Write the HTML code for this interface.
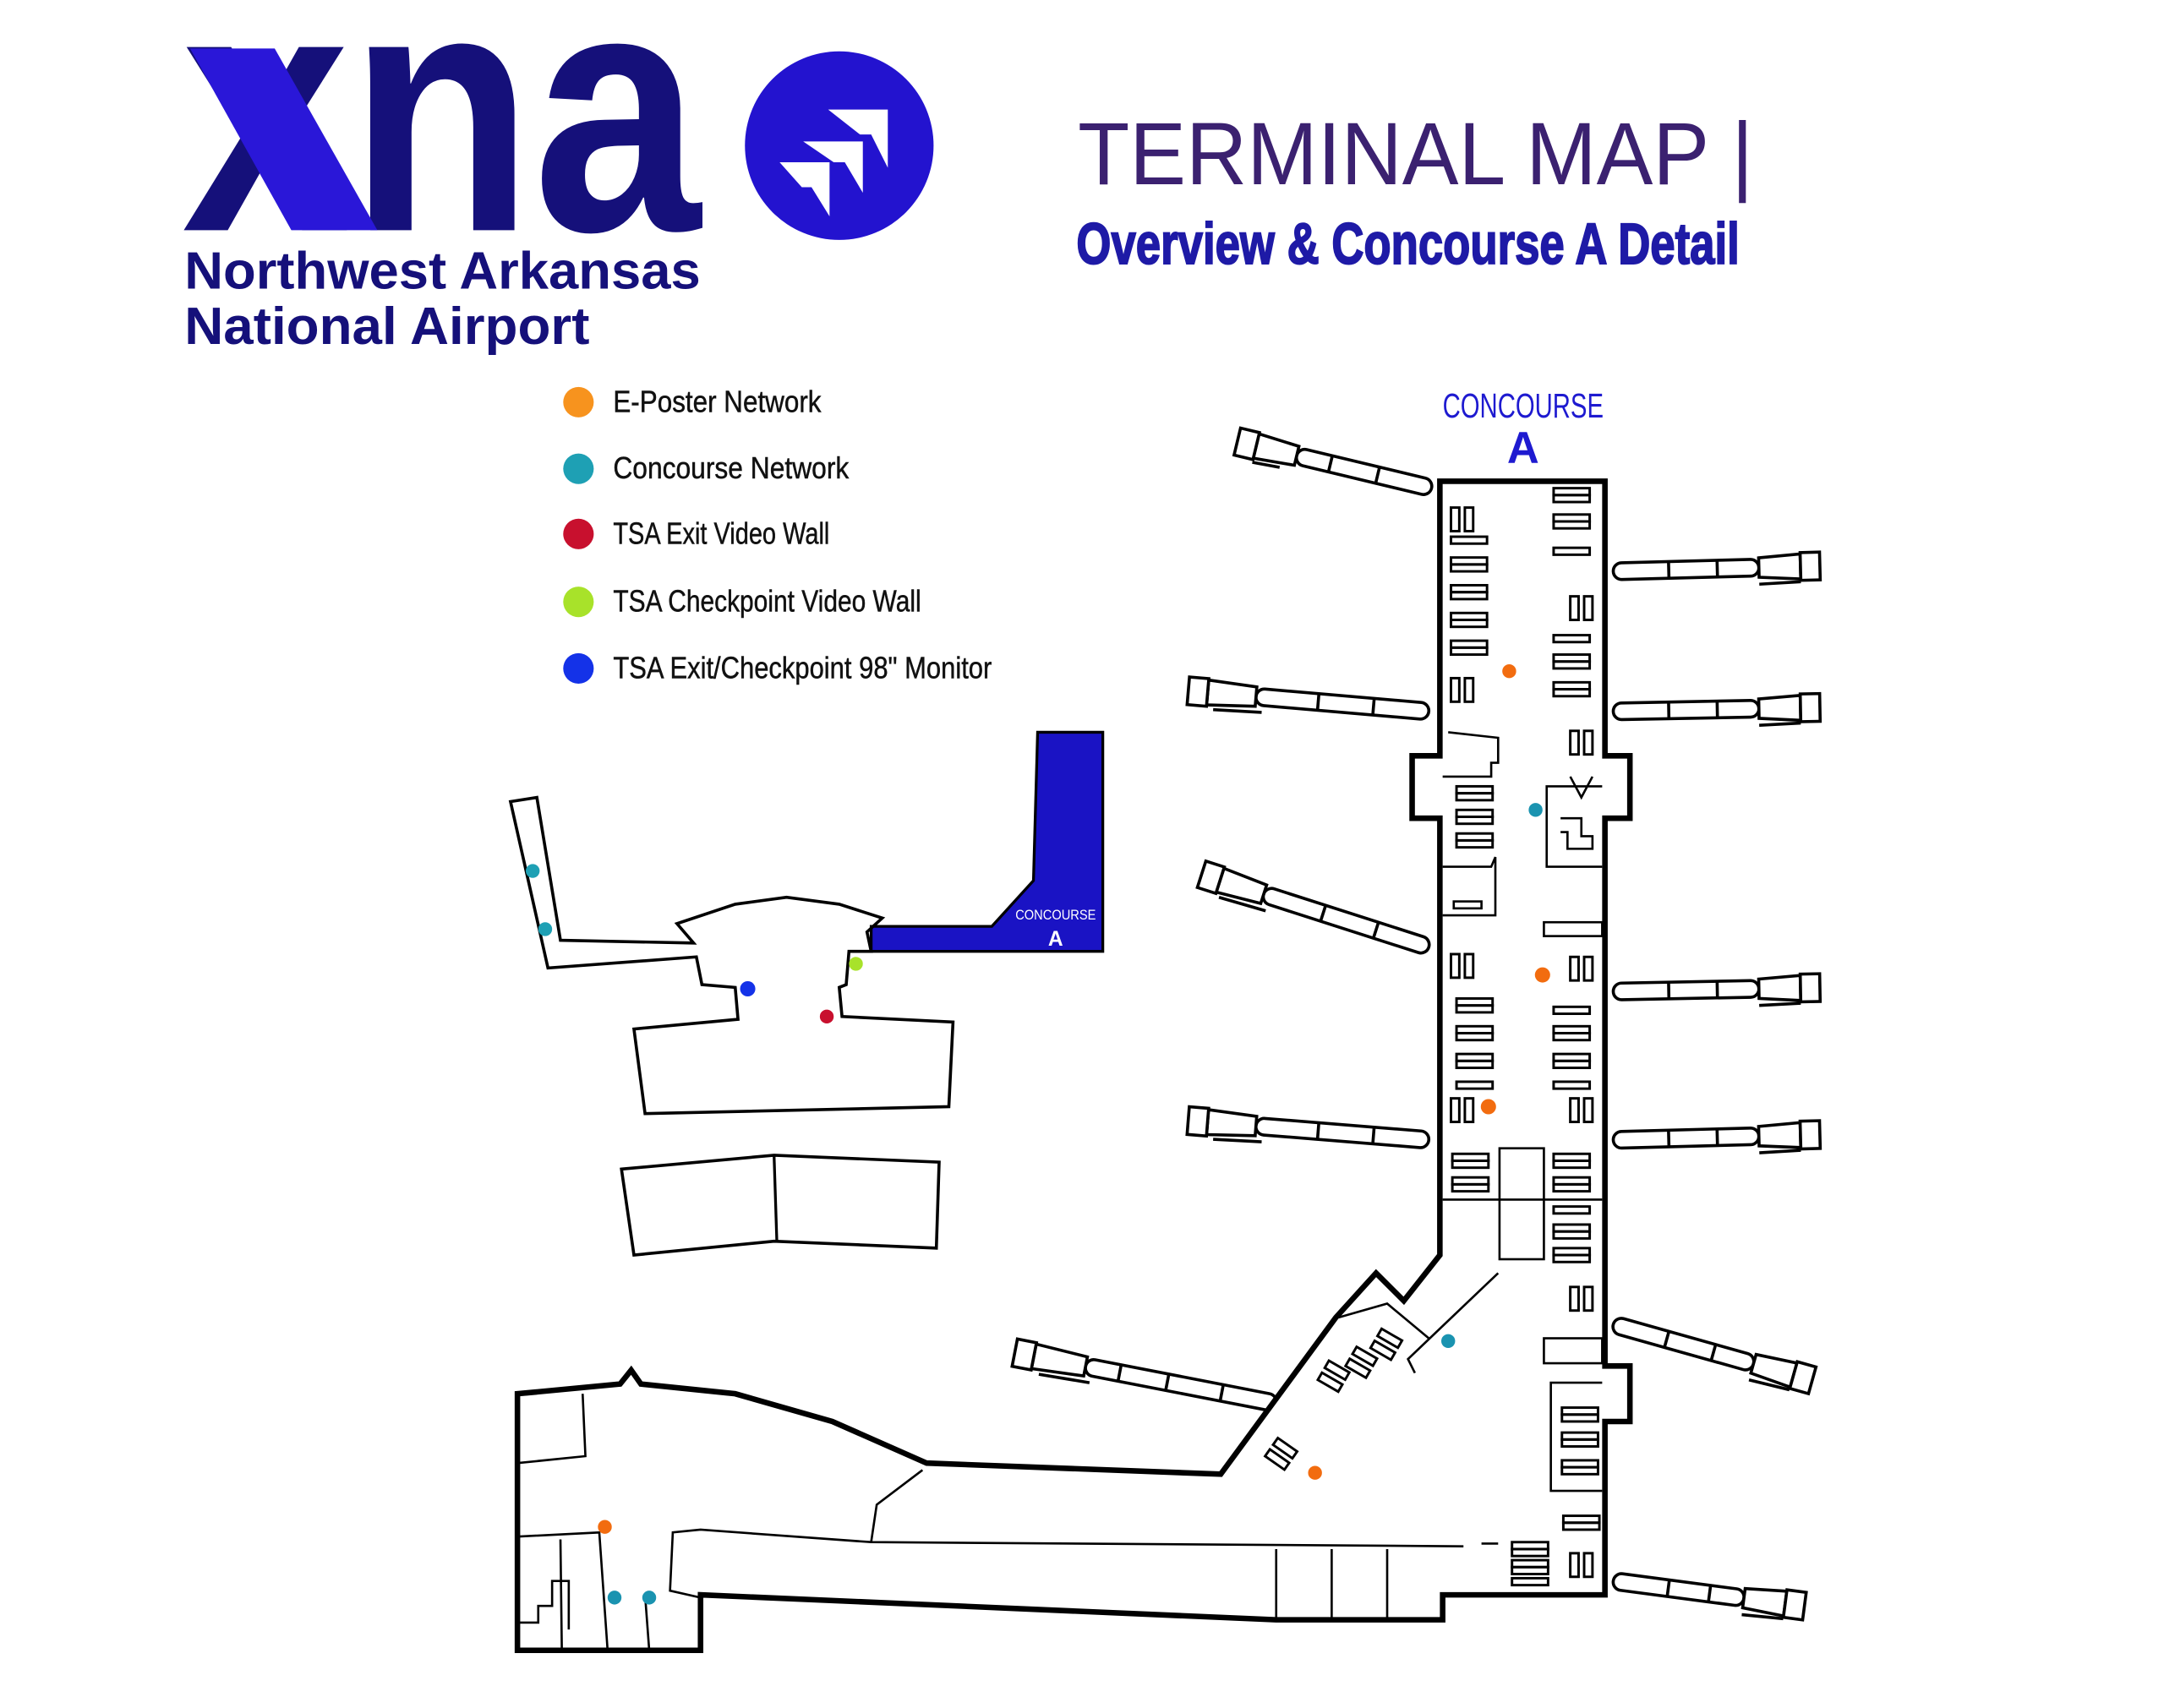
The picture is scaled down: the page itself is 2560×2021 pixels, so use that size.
<!DOCTYPE html>
<html><head><meta charset="utf-8"><style>
html,body{margin:0;padding:0;background:#fff;}
svg{display:block;}
</style></head><body>
<svg width="2560" height="2021" viewBox="0 0 1560 1231.6" xmlns="http://www.w3.org/2000/svg">
<defs>
<g id="b"><rect x="0" y="0" width="26" height="5" fill="none" stroke="#000" stroke-width="1.8"/><rect x="0" y="5" width="26" height="5" fill="none" stroke="#000" stroke-width="1.8"/></g>
<g id="s"><rect x="0" y="0" width="26" height="5" fill="none" stroke="#000" stroke-width="1.8"/></g>
<g id="p"><rect x="0" y="0" width="6" height="17" fill="none" stroke="#000" stroke-width="1.8"/><rect x="10" y="0" width="6" height="17" fill="none" stroke="#000" stroke-width="1.8"/></g>
</defs>
<rect width="1560" height="1232" fill="#fff"/>

<!-- Logo -->
<text x="131" y="166" font-family="Liberation Sans, sans-serif" font-weight="bold" font-size="250" fill="#15107a" textLength="374" lengthAdjust="spacingAndGlyphs">xna</text>
<polygon points="137,35 198,35 272,166 210,166" fill="#2a17d8"/>
<text x="133" y="208" font-family="Liberation Sans, sans-serif" font-weight="bold" font-size="38" fill="#15107a" textLength="372" lengthAdjust="spacingAndGlyphs">Northwest Arkansas</text>
<text x="133" y="248" font-family="Liberation Sans, sans-serif" font-weight="bold" font-size="38" fill="#15107a" textLength="292" lengthAdjust="spacingAndGlyphs">National Airport</text>
<ellipse cx="605" cy="105" rx="68" ry="68" fill="#2313cf"/>
<polygon points="597,79 640,79 640,121 628,97 620,97" fill="#fff"/>
<polygon points="579,102 622,102 622,139 609,117 601,117" fill="#fff"/>
<polygon points="562,117 598,117 598,156 585,135 578,135" fill="#fff"/>

<!-- Title -->
<text x="777" y="133" font-family="Liberation Sans, sans-serif" font-size="64" fill="#3b2170" textLength="487" lengthAdjust="spacingAndGlyphs">TERMINAL MAP |</text>
<text x="776" y="190" font-family="Liberation Sans, sans-serif" font-weight="bold" font-size="42" fill="#1e1aa6" stroke="#1e1aa6" stroke-width="1.2" textLength="478" lengthAdjust="spacingAndGlyphs">Overview &amp; Concourse A Detail</text>

<!-- Legend -->
<g font-family="Liberation Sans, sans-serif" font-size="22" fill="#111" stroke="#111" stroke-width="0.3">
<circle cx="417" cy="290" r="11" fill="#f7931e" stroke="none"/><text x="442" y="297" textLength="150" lengthAdjust="spacingAndGlyphs">E-Poster Network</text>
<circle cx="417" cy="338" r="11" fill="#1ea0b4" stroke="none"/><text x="442" y="345" textLength="170" lengthAdjust="spacingAndGlyphs">Concourse Network</text>
<circle cx="417" cy="385" r="11" fill="#c8102e" stroke="none"/><text x="442" y="392" textLength="156" lengthAdjust="spacingAndGlyphs">TSA Exit Video Wall</text>
<circle cx="417" cy="434" r="11" fill="#a8e22a" stroke="none"/><text x="442" y="441" textLength="222" lengthAdjust="spacingAndGlyphs">TSA Checkpoint Video Wall</text>
<circle cx="417" cy="482" r="11" fill="#1432e8" stroke="none"/><text x="442" y="489" textLength="273" lengthAdjust="spacingAndGlyphs">TSA Exit/Checkpoint 98" Monitor</text>
</g>

<!-- Overview map -->
<polygon points="748,528 795,528 795,686 628,686 628,668 715,668 745,635" fill="#1a13c4" stroke="#000" stroke-width="2"/>
<text x="761" y="663" font-family="Liberation Sans, sans-serif" font-size="10" fill="#fff" text-anchor="middle" textLength="58" lengthAdjust="spacingAndGlyphs">CONCOURSE</text>
<text x="761" y="682" font-family="Liberation Sans, sans-serif" font-weight="bold" font-size="15" fill="#fff" text-anchor="middle">A</text>
<polygon points="368,578 387,575 404,678 500,680 488,666 530,652 567,647 605,652 636,662 625,672 628,686 612,686 610,710 605,712 607,733 687,737 684,798 465,803 457,742 532,735 530,712 506,710 502,690 395,698" fill="none" stroke="#000" stroke-width="2.2"/>
<polygon points="448,843 558,833 677,838 675,900 558,895 457,905" fill="none" stroke="#000" stroke-width="2.2"/>
<line x1="558" y1="833" x2="560" y2="895" stroke="#000" stroke-width="2"/>

<!-- Concourse label -->
<text x="1098" y="301" font-family="Liberation Sans, sans-serif" font-size="25" fill="#1e1ad0" text-anchor="middle" textLength="116" lengthAdjust="spacingAndGlyphs">CONCOURSE</text>
<text x="1098" y="334" font-family="Liberation Sans, sans-serif" font-weight="bold" font-size="32" fill="#1e1ad0" text-anchor="middle">A</text>

<!-- Jet bridges -->
<g fill="#fff" stroke="#000" stroke-width="2.2">
<g transform="translate(1032,352) rotate(193.5)"><rect x="0" y="-6" width="100" height="12" rx="6"/><line x1="40" y1="-6" x2="40" y2="6"/><line x1="75" y1="-6" x2="75" y2="6"/><polygon points="100,-7 130,-9 130,9 100,7"/><rect x="130" y="-10" width="14" height="20"/><line x1="110" y1="-11" x2="130" y2="-12"/></g>
<g transform="translate(1030,513) rotate(184.9)"><rect x="0" y="-6" width="125" height="12" rx="6"/><line x1="40" y1="-6" x2="40" y2="6"/><line x1="80" y1="-6" x2="80" y2="6"/><polygon points="125,-7 160,-9 160,9 125,7"/><rect x="160" y="-10" width="14" height="20"/><line x1="120" y1="-11" x2="155" y2="-12"/></g>
<g transform="translate(1030,683) rotate(197.8)"><rect x="0" y="-6" width="125" height="12" rx="6"/><line x1="40" y1="-6" x2="40" y2="6"/><line x1="80" y1="-6" x2="80" y2="6"/><polygon points="125,-7 158,-9 158,9 125,7"/><rect x="158" y="-10" width="14" height="20"/><line x1="120" y1="-11" x2="155" y2="-12"/></g>
<g transform="translate(1030,822) rotate(184.6)"><rect x="0" y="-6" width="125" height="12" rx="6"/><line x1="40" y1="-6" x2="40" y2="6"/><line x1="80" y1="-6" x2="80" y2="6"/><polygon points="125,-7 160,-9 160,9 125,7"/><rect x="160" y="-10" width="14" height="20"/><line x1="120" y1="-11" x2="155" y2="-12"/></g>
<g transform="translate(920,1012) rotate(191)"><rect x="0" y="-6" width="140" height="12" rx="6"/><line x1="40" y1="-6" x2="40" y2="6"/><line x1="80" y1="-6" x2="80" y2="6"/><line x1="115" y1="-6" x2="115" y2="6"/><polygon points="140,-7 178,-9 178,9 140,7"/><rect x="178" y="-10" width="14" height="20"/><line x1="135" y1="-11" x2="172" y2="-12"/></g>
<g transform="translate(1163,412) rotate(-1.5)"><rect x="0" y="-6" width="105" height="12" rx="6"/><line x1="40" y1="-6" x2="40" y2="6"/><line x1="75" y1="-6" x2="75" y2="6"/><polygon points="105,-7 135,-9 135,9 105,7"/><rect x="135" y="-10" width="14" height="20"/><line x1="105" y1="12" x2="135" y2="11"/></g>
<g transform="translate(1163,513) rotate(-1.1)"><rect x="0" y="-6" width="105" height="12" rx="6"/><line x1="40" y1="-6" x2="40" y2="6"/><line x1="75" y1="-6" x2="75" y2="6"/><polygon points="105,-7 135,-9 135,9 105,7"/><rect x="135" y="-10" width="14" height="20"/><line x1="105" y1="12" x2="135" y2="11"/></g>
<g transform="translate(1163,715) rotate(-1.1)"><rect x="0" y="-6" width="105" height="12" rx="6"/><line x1="40" y1="-6" x2="40" y2="6"/><line x1="75" y1="-6" x2="75" y2="6"/><polygon points="105,-7 135,-9 135,9 105,7"/><rect x="135" y="-10" width="14" height="20"/><line x1="105" y1="12" x2="135" y2="11"/></g>
<g transform="translate(1163,822) rotate(-1.5)"><rect x="0" y="-6" width="105" height="12" rx="6"/><line x1="40" y1="-6" x2="40" y2="6"/><line x1="75" y1="-6" x2="75" y2="6"/><polygon points="105,-7 135,-9 135,9 105,7"/><rect x="135" y="-10" width="14" height="20"/><line x1="105" y1="12" x2="135" y2="11"/></g>
<g transform="translate(1163,955) rotate(15.7)"><rect x="0" y="-6" width="105" height="12" rx="6"/><line x1="40" y1="-6" x2="40" y2="6"/><line x1="75" y1="-6" x2="75" y2="6"/><polygon points="105,-7 135,-9 135,9 105,7"/><rect x="135" y="-10" width="14" height="20"/><line x1="105" y1="12" x2="135" y2="11"/></g>
<g transform="translate(1163,1140) rotate(7.5)"><rect x="0" y="-6" width="95" height="12" rx="6"/><line x1="40" y1="-6" x2="40" y2="6"/><line x1="70" y1="-6" x2="70" y2="6"/><polygon points="95,-7 125,-9 125,9 95,7"/><rect x="125" y="-10" width="14" height="20"/><line x1="95" y1="12" x2="125" y2="11"/></g>
</g>

<!-- Main terminal outline -->
<polygon points="1038,347 1157,347 1157,545 1175,545 1175,590 1157,590 1157,985 1175,985 1175,1025 1157,1025 1157,1150 1040,1150 1040,1168 920,1168 505,1150 505,1190 373,1190 373,1005 447,998 455,988 462,998 530,1005 600,1025 668,1055 880,1063 963,950 992,918 1012,938 1038,905 1038,590 1018,590 1018,545 1038,545" fill="#fff" stroke="#000" stroke-width="4" stroke-linejoin="miter"/>

<g fill="none" stroke="#000" stroke-width="1.6">
<polyline points="665,1060 632,1085 628,1112 1055,1115"/>
<line x1="1068" y1="1113" x2="1080" y2="1113"/>
<line x1="920" y1="1117" x2="920" y2="1168"/><line x1="960" y1="1117" x2="960" y2="1168"/><line x1="1000" y1="1117" x2="1000" y2="1168"/>
<polyline points="628,1112 505,1103 485,1105 483,1147 505,1152"/>
<polyline points="373,1055 422,1050 420,1005"/>
<polyline points="373,1108 432,1105 438,1190"/>
<polyline points="404,1110 405,1190"/>
<polyline points="373,1170 388,1170 388,1158 398,1158 398,1140 410,1140 410,1175"/>
<line x1="465" y1="1150" x2="468" y2="1190"/>
<line x1="1040" y1="865" x2="1155" y2="865"/>
<rect x="1081" y="828" width="32" height="80"/>
<polyline points="1040,560 1075,560 1075,550 1080,550 1080,532 1044,528"/>
<polyline points="1040,625 1075,625 1078,618 1078,660 1040,660"/>
<rect x="1048" y="650" width="20" height="5"/>
<polyline points="1155,567 1115,567 1115,625 1155,625"/>
<polyline points="1125,590 1140,590 1140,603 1148,603 1148,612 1130,612 1130,600 1125,600"/>
<polyline points="1132,560 1140,575 1148,560"/>
<rect x="1113" y="665" width="42" height="10"/>
<rect x="1113" y="965" width="42" height="18"/>
<polyline points="1155,997 1118,997 1118,1075 1155,1075"/>
<polyline points="1080,918 1015,980 1020,990"/>
<polyline points="965,950 1000,940 1030,965"/>
</g>
<g>
<use href="#p" x="1046" y="366"/><use href="#s" x="1046" y="387"/>
<use href="#b" x="1046" y="402"/><use href="#b" x="1046" y="422"/><use href="#b" x="1046" y="442"/><use href="#b" x="1046" y="462"/>
<use href="#p" x="1046" y="489"/>
<use href="#b" x="1120" y="352"/><use href="#b" x="1120" y="371"/><use href="#s" x="1120" y="395"/>
<use href="#p" x="1132" y="430"/><use href="#s" x="1120" y="458"/><use href="#b" x="1120" y="472"/><use href="#b" x="1120" y="492"/>
<use href="#p" x="1132" y="527"/>
<use href="#b" x="1050" y="567"/><use href="#b" x="1050" y="584"/><use href="#b" x="1050" y="601"/>
<use href="#p" x="1046" y="688"/><use href="#p" x="1132" y="690"/>
<use href="#b" x="1050" y="720"/><use href="#b" x="1050" y="740"/><use href="#b" x="1050" y="760"/><use href="#s" x="1050" y="780"/>
<use href="#s" x="1120" y="726"/><use href="#b" x="1120" y="740"/><use href="#b" x="1120" y="760"/><use href="#s" x="1120" y="780"/>
<use href="#p" x="1046" y="792"/><use href="#p" x="1132" y="792"/>
<use href="#b" x="1047" y="832"/><use href="#b" x="1047" y="849"/>
<use href="#b" x="1120" y="832"/><use href="#b" x="1120" y="849"/>
<use href="#s" x="1120" y="870"/><use href="#b" x="1120" y="883"/><use href="#b" x="1120" y="900"/>
<use href="#p" x="1132" y="928"/>
<use href="#b" x="1126" y="1015"/><use href="#b" x="1126" y="1033"/><use href="#b" x="1126" y="1053"/>
<use href="#b" x="1127" y="1093"/>
<use href="#b" x="1090" y="1112"/><use href="#b" x="1090" y="1125"/><use href="#s" x="1090" y="1138"/>
<use href="#p" x="1132" y="1120"/>
<g transform="translate(950,995) rotate(-60)"><use href="#p" x="0" y="0"/></g>
<g transform="translate(970,985) rotate(-60)"><use href="#p" x="0" y="0"/></g>
<g transform="translate(988,972) rotate(-60)"><use href="#p" x="0" y="0"/></g>
<g transform="translate(912,1050) rotate(-55)"><use href="#p" x="0" y="0"/></g>
</g>

<!-- dots -->
<g>
<circle cx="384" cy="628" r="5" fill="#1ea0b4"/><circle cx="393" cy="670" r="5" fill="#1ea0b4"/>
<circle cx="539" cy="713" r="5.5" fill="#1432e8"/><circle cx="596" cy="733" r="5" fill="#c8102e"/><circle cx="617" cy="695" r="5" fill="#a8e22a"/>
<circle cx="1088" cy="484" r="5" fill="#f26c0f"/><circle cx="1112" cy="703" r="5.5" fill="#f26c0f"/><circle cx="1073" cy="798" r="5.5" fill="#f26c0f"/>
<circle cx="948" cy="1062" r="5" fill="#f26c0f"/><circle cx="436" cy="1101" r="5" fill="#f26c0f"/>
<circle cx="1107" cy="584" r="5" fill="#1a93b0"/><circle cx="1044" cy="967" r="5" fill="#1a93b0"/>
<circle cx="443" cy="1152" r="5" fill="#1a93b0"/><circle cx="468" cy="1152" r="5" fill="#1a93b0"/>
</g>
</svg>
</body></html>
